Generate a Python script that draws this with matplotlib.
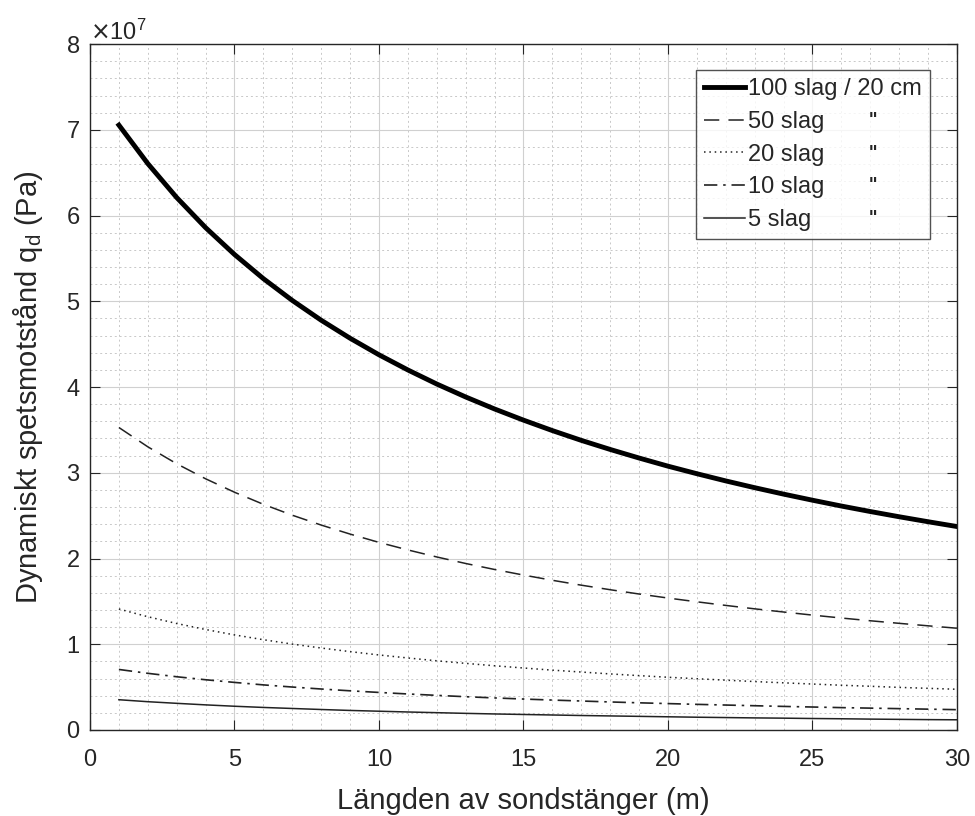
import numpy as np
import matplotlib
matplotlib.use("Agg")
import matplotlib.pyplot as plt
from matplotlib.ticker import MultipleLocator, ScalarFormatter

plt.rcParams["font.family"] = ["Liberation Sans", "DejaVu Sans"]

# Rod length (m)
langd = list(range(1, 31))

# Dynamic point resistance, units of 1e7 Pa
q_100 = [7.055, 6.606, 6.210, 5.859, 5.546, 5.264, 5.010, 4.779, 4.569, 4.376,
         4.199, 4.035, 3.884, 3.744, 3.614, 3.492, 3.378, 3.272, 3.172, 3.077,
         2.989, 2.905, 2.826, 2.751, 2.680, 2.612, 2.548, 2.487, 2.429, 2.373]
q_50 = [3.528, 3.303, 3.105, 2.930, 2.773, 2.632, 2.505, 2.390, 2.285, 2.188,
        2.100, 2.018, 1.942, 1.872, 1.807, 1.746, 1.689, 1.636, 1.586, 1.539,
        1.495, 1.453, 1.413, 1.376, 1.340, 1.306, 1.274, 1.244, 1.215, 1.187]
q_20 = [1.411, 1.321, 1.242, 1.172, 1.109, 1.053, 1.002, 0.956, 0.914, 0.875,
        0.840, 0.807, 0.777, 0.749, 0.723, 0.698, 0.676, 0.654, 0.634, 0.615,
        0.598, 0.581, 0.565, 0.550, 0.536, 0.522, 0.510, 0.497, 0.486, 0.475]
q_10 = [0.706, 0.661, 0.621, 0.586, 0.555, 0.526, 0.501, 0.478, 0.457, 0.438,
        0.420, 0.404, 0.388, 0.374, 0.361, 0.349, 0.338, 0.327, 0.317, 0.308,
        0.299, 0.291, 0.283, 0.275, 0.268, 0.261, 0.255, 0.249, 0.243, 0.237]
q_5 = [0.353, 0.330, 0.311, 0.293, 0.277, 0.263, 0.251, 0.239, 0.228, 0.219,
       0.210, 0.202, 0.194, 0.187, 0.181, 0.175, 0.169, 0.164, 0.159, 0.154,
       0.149, 0.145, 0.141, 0.138, 0.134, 0.131, 0.127, 0.124, 0.121, 0.119]

labels = ["100 slag / 20 cm", "50 slag", "20 slag", "10 slag", "5 slag"]

fig = plt.figure(figsize=(9.75, 8.16), dpi=100)
ax = fig.add_axes([0.0923, 0.1054, 0.8892, 0.8406])

scale = 1e7
ink = "#262626"
ax.plot(langd, np.array(q_100) * scale, color="black", lw=3.5, label=labels[0])
ax.plot(langd, np.array(q_50) * scale, color="#222222", lw=1.1,
        dashes=(10, 6), label=labels[1])
ax.plot(langd, np.array(q_20) * scale, color="#222222", lw=1.1,
        dashes=(1, 2.5), label=labels[2])
ax.plot(langd, np.array(q_10) * scale, color="#222222", lw=1.2,
        dashes=(8, 3.5, 1.5, 3.5), label=labels[3])
ax.plot(langd, np.array(q_5) * scale, color="#222222", lw=1.1, label=labels[4])

ax.set_xlim(0, 30)
ax.set_ylim(0, 8e7)
ax.xaxis.set_major_locator(MultipleLocator(5))
ax.xaxis.set_minor_locator(MultipleLocator(1))
ax.yaxis.set_major_locator(MultipleLocator(1e7))
ax.yaxis.set_minor_locator(MultipleLocator(0.2e7))
fmt = ScalarFormatter(useMathText=True)
fmt.set_powerlimits((0, 0))
ax.yaxis.set_major_formatter(fmt)
ax.yaxis.get_offset_text().set_fontsize(17)
ax.yaxis.get_offset_text().set_color(ink)

ax.grid(which="major", color="#d0d0d0", lw=0.8)
ax.grid(which="minor", color="#c8c8c8", lw=0.7, linestyle=(0, (2, 3)))
ax.set_axisbelow(True)
ax.tick_params(which="both", direction="in", top=True, right=True,
               labelsize=17, labelcolor=ink, color=ink)
ax.tick_params(which="major", length=7)
ax.tick_params(axis="x", which="major", pad=14)
ax.tick_params(axis="y", which="major", pad=7)
ax.tick_params(which="minor", length=0)
for s in ax.spines.values():
    s.set_color(ink)
    s.set_linewidth(1.0)

ax.set_xlabel("Längden av sondstänger (m)", fontsize=21, color=ink, labelpad=11)
ax.set_ylabel("Dynamiskt spetsmotstånd q$_\\mathregular{d}$ (Pa)", fontsize=21,
              color=ink, labelpad=15)

leg = ax.legend(loc="upper right", bbox_to_anchor=(0.969, 0.962), fontsize=17,
                frameon=True, fancybox=False, edgecolor=ink,
                handlelength=1.7, handletextpad=0.15, labelspacing=0.45,
                borderpad=0.35, borderaxespad=0)
leg.get_frame().set_linewidth(1.0)
for t in leg.get_texts():
    t.set_color(ink)

# ditto marks after the shorter legend entries
fig.canvas.draw()
for t in leg.get_texts()[1:]:
    bb = t.get_window_extent()
    xd, _ = fig.transFigure.inverted().transform((873, 0))
    _, yd = fig.transFigure.inverted().transform((0, (bb.y0 + bb.y1) / 2))
    fig.text(xd, yd + 0.002, '"', fontsize=13, fontweight="bold",
             ha="center", va="center", color=ink)

fig.savefig("out.png", dpi=100)
